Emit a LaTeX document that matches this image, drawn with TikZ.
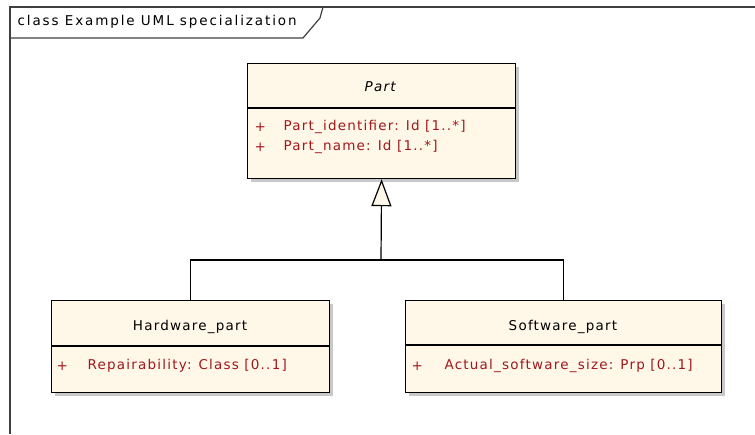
\documentclass[tikz,border=0pt]{standalone}
\usepackage{fontspec}
\setmainfont{DejaVu Sans}[LetterSpace=9]
\usetikzlibrary{arrows.meta,positioning}

\definecolor{classfill}{RGB}{255,247,232}
\definecolor{attrred}{RGB}{160,24,28}
\definecolor{shadowgray}{RGB}{200,200,200}

\begin{document}
\begin{tikzpicture}[x=1pt,y=-1pt,
  font=\fontsize{13.5}{15}\selectfont,
  line width=1.2pt,
  classbox/.style={draw, fill=classfill, inner sep=0pt, anchor=north west},
  shadowbox/.style={fill=shadowgray},
  attr/.style={text=attrred, anchor=west, inner sep=0pt},
  cname/.style={inner sep=0pt}
]
\useasboundingbox (0,0) rectangle (755,434);

% Frame with name tab
\draw[black!75] (755,7) -- (10,7) -- (10,434);
\draw[black!75] (10,38) -- (303,38) -- (320,18) -- (323,7);
\node[anchor=west, inner sep=0pt] (frametitle) at (17,22)
  {\addfontfeature{LetterSpace=14}class Example UML specialization};

% Part (abstract)
\fill[shadowbox] (251,67) rectangle (519,182);
\node[classbox, minimum width=268, minimum height=115] (part) at (247,63) {};
\draw (247,108) -- (515,108);
\node[cname] (partname) at (381,87) {\textit{Part}};
\node[attr] (partplusa) at (254,127) {+};
\node[attr] (partid) at (283,127) {Part\_identifier:\hspace{7pt}Id [1..*]};
\node[attr] (partplusb) at (254,147) {+};
\node[attr] (partnm) at (283,147) {Part\_name:\hspace{7pt}Id [1..*]};

% Hardware_part
\fill[shadowbox] (55,304) rectangle (333,396);
\node[classbox, minimum width=278, minimum height=92] (hw) at (51,300) {};
\draw (51,346) -- (329,346);
\node[cname] (hwname) at (190,327) {Hardware\_part};
\node[attr] (hwplus) at (56,366) {+};
\node[attr] (hwrep) at (87,366) {Repairability:\hspace{7pt}Class [0..1]};

% Software_part
\fill[shadowbox] (409,304) rectangle (725,396);
\node[classbox, minimum width=316, minimum height=92] (sw) at (405,300) {};
\draw (405,345) -- (721,345);
\node[cname] (swname) at (563,327) {Software\_part};
\node[attr] (swplus) at (411,366) {+};
\node[attr] (swsize) at (444,366) {Actual\_software\_size:\hspace{7pt}Prp [0..1]};

% Generalization
\coordinate (join) at (381,260);
\draw (hw.north) |- (join) -| (sw.north);
\draw[-{Triangle[open, length=27pt, width=20pt, fill=classfill]}] (join) -- (part.south);

\end{tikzpicture}
\end{document}
